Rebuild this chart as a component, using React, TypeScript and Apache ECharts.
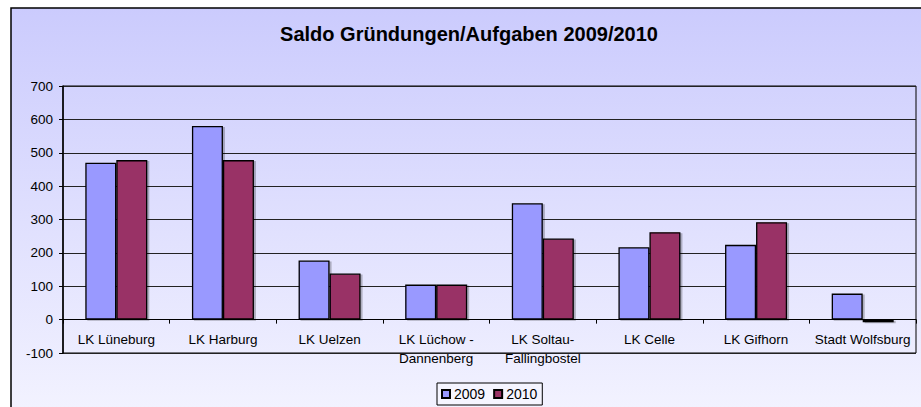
import React, { useEffect, useRef } from "react";
import * as echarts from "echarts";

const categories = [
  "LK Lüneburg",
  "LK Harburg",
  "LK Uelzen",
  "LK Lüchow -\nDannenberg",
  "LK Soltau-\nFallingbostel",
  "LK Celle",
  "LK Gifhorn",
  "Stadt Wolfsburg",
];
const values2009 = [470, 580, 177, 105, 349, 217, 224, 78];
const values2010 = [478, 478, 138, 105, 243, 262, 292, -8];
const seriesNames = ["2009", "2010"];
const titleText = "Saldo Gründungen/Aufgaben 2009/2010";

const FONT = "'Liberation Sans', Arial, sans-serif";

export default function App() {
  const ref = useRef<HTMLDivElement>(null);
  useEffect(() => {
    if (!ref.current) return;
    const chart = echarts.init(ref.current, undefined, { renderer: "svg" });
    const barStyle = (color: string) => ({
      color,
      borderColor: "#000",
      borderWidth: 1.3,
      shadowColor: "rgba(0,0,0,0.25)",
      shadowOffsetX: 2,
      shadowOffsetY: 1,
      shadowBlur: 1,
    });
    chart.setOption({
      animation: false,
      textStyle: { fontFamily: FONT },
      graphic: [
        {
          type: "rect",
          z: -100,
          shape: { x: 11, y: 8, width: 930, height: 420 },
          style: {
            fill: new echarts.graphic.LinearGradient(0, 0, 0, 1, [
              { offset: 0, color: "#CBCBFD" },
              { offset: 1, color: "#F4F4FF" },
            ]),
            stroke: "#000",
            lineWidth: 1.5,
          },
        },
      ],
      title: {
        text: titleText,
        left: 464,
        textAlign: "center",
        top: 19,
        textStyle: { fontFamily: FONT, fontSize: 20, fontWeight: "bold", color: "#000" },
      },
      legend: {
        data: seriesNames,
        left: 437,
        top: 383,
        orient: "horizontal",
        itemWidth: 8,
        itemHeight: 8,
        itemGap: 8,
        padding: [4, 5, 4, 4],
        borderColor: "#000",
        borderWidth: 1,
        backgroundColor: "#F5F5FF",
        icon: "rect",
        textStyle: { fontFamily: FONT, fontSize: 14, color: "#000", padding: [0, 0, 0, -1] },
      },
      grid: {
        left: 63,
        top: 86,
        right: 5,
        bottom: 54,
        show: true,
        borderColor: "#000",
        borderWidth: 1,
        backgroundColor: "transparent",
      },
      xAxis: {
        type: "category",
        data: categories,
        axisLine: { onZero: true, lineStyle: { color: "#000", width: 1 } },
        axisTick: { show: true, length: 4, lineStyle: { color: "#000" } },
        axisLabel: {
          interval: 0,
          margin: -23,
          fontFamily: FONT,
          fontSize: 13.5,
          lineHeight: 19,
          color: "#000",
        },
      },
      yAxis: {
        type: "value",
        min: -100,
        max: 700,
        interval: 100,
        axisLine: { show: true, lineStyle: { color: "#000", width: 1.5 } },
        axisTick: { show: true, length: 4, lineStyle: { color: "#000" } },
        axisLabel: { margin: 10, fontFamily: FONT, fontSize: 13.5, color: "#000" },
        splitLine: { show: true, lineStyle: { color: "#222", width: 1 } },
      },
      series: [
        {
          name: seriesNames[0],
          type: "bar",
          data: values2009,
          barWidth: 31,
          barGap: "0%",
          itemStyle: barStyle("#9999FF"),
        },
        {
          name: seriesNames[1],
          type: "bar",
          data: values2010,
          barWidth: 31,
          barGap: "0%",
          itemStyle: barStyle("#993366"),
        },
      ],
    });
    return () => chart.dispose();
  }, []);
  return (
    <div
      ref={ref}
      style={{ position: "absolute", left: 0, top: 0, width: 921, height: 407 }}
    />
  );
}
